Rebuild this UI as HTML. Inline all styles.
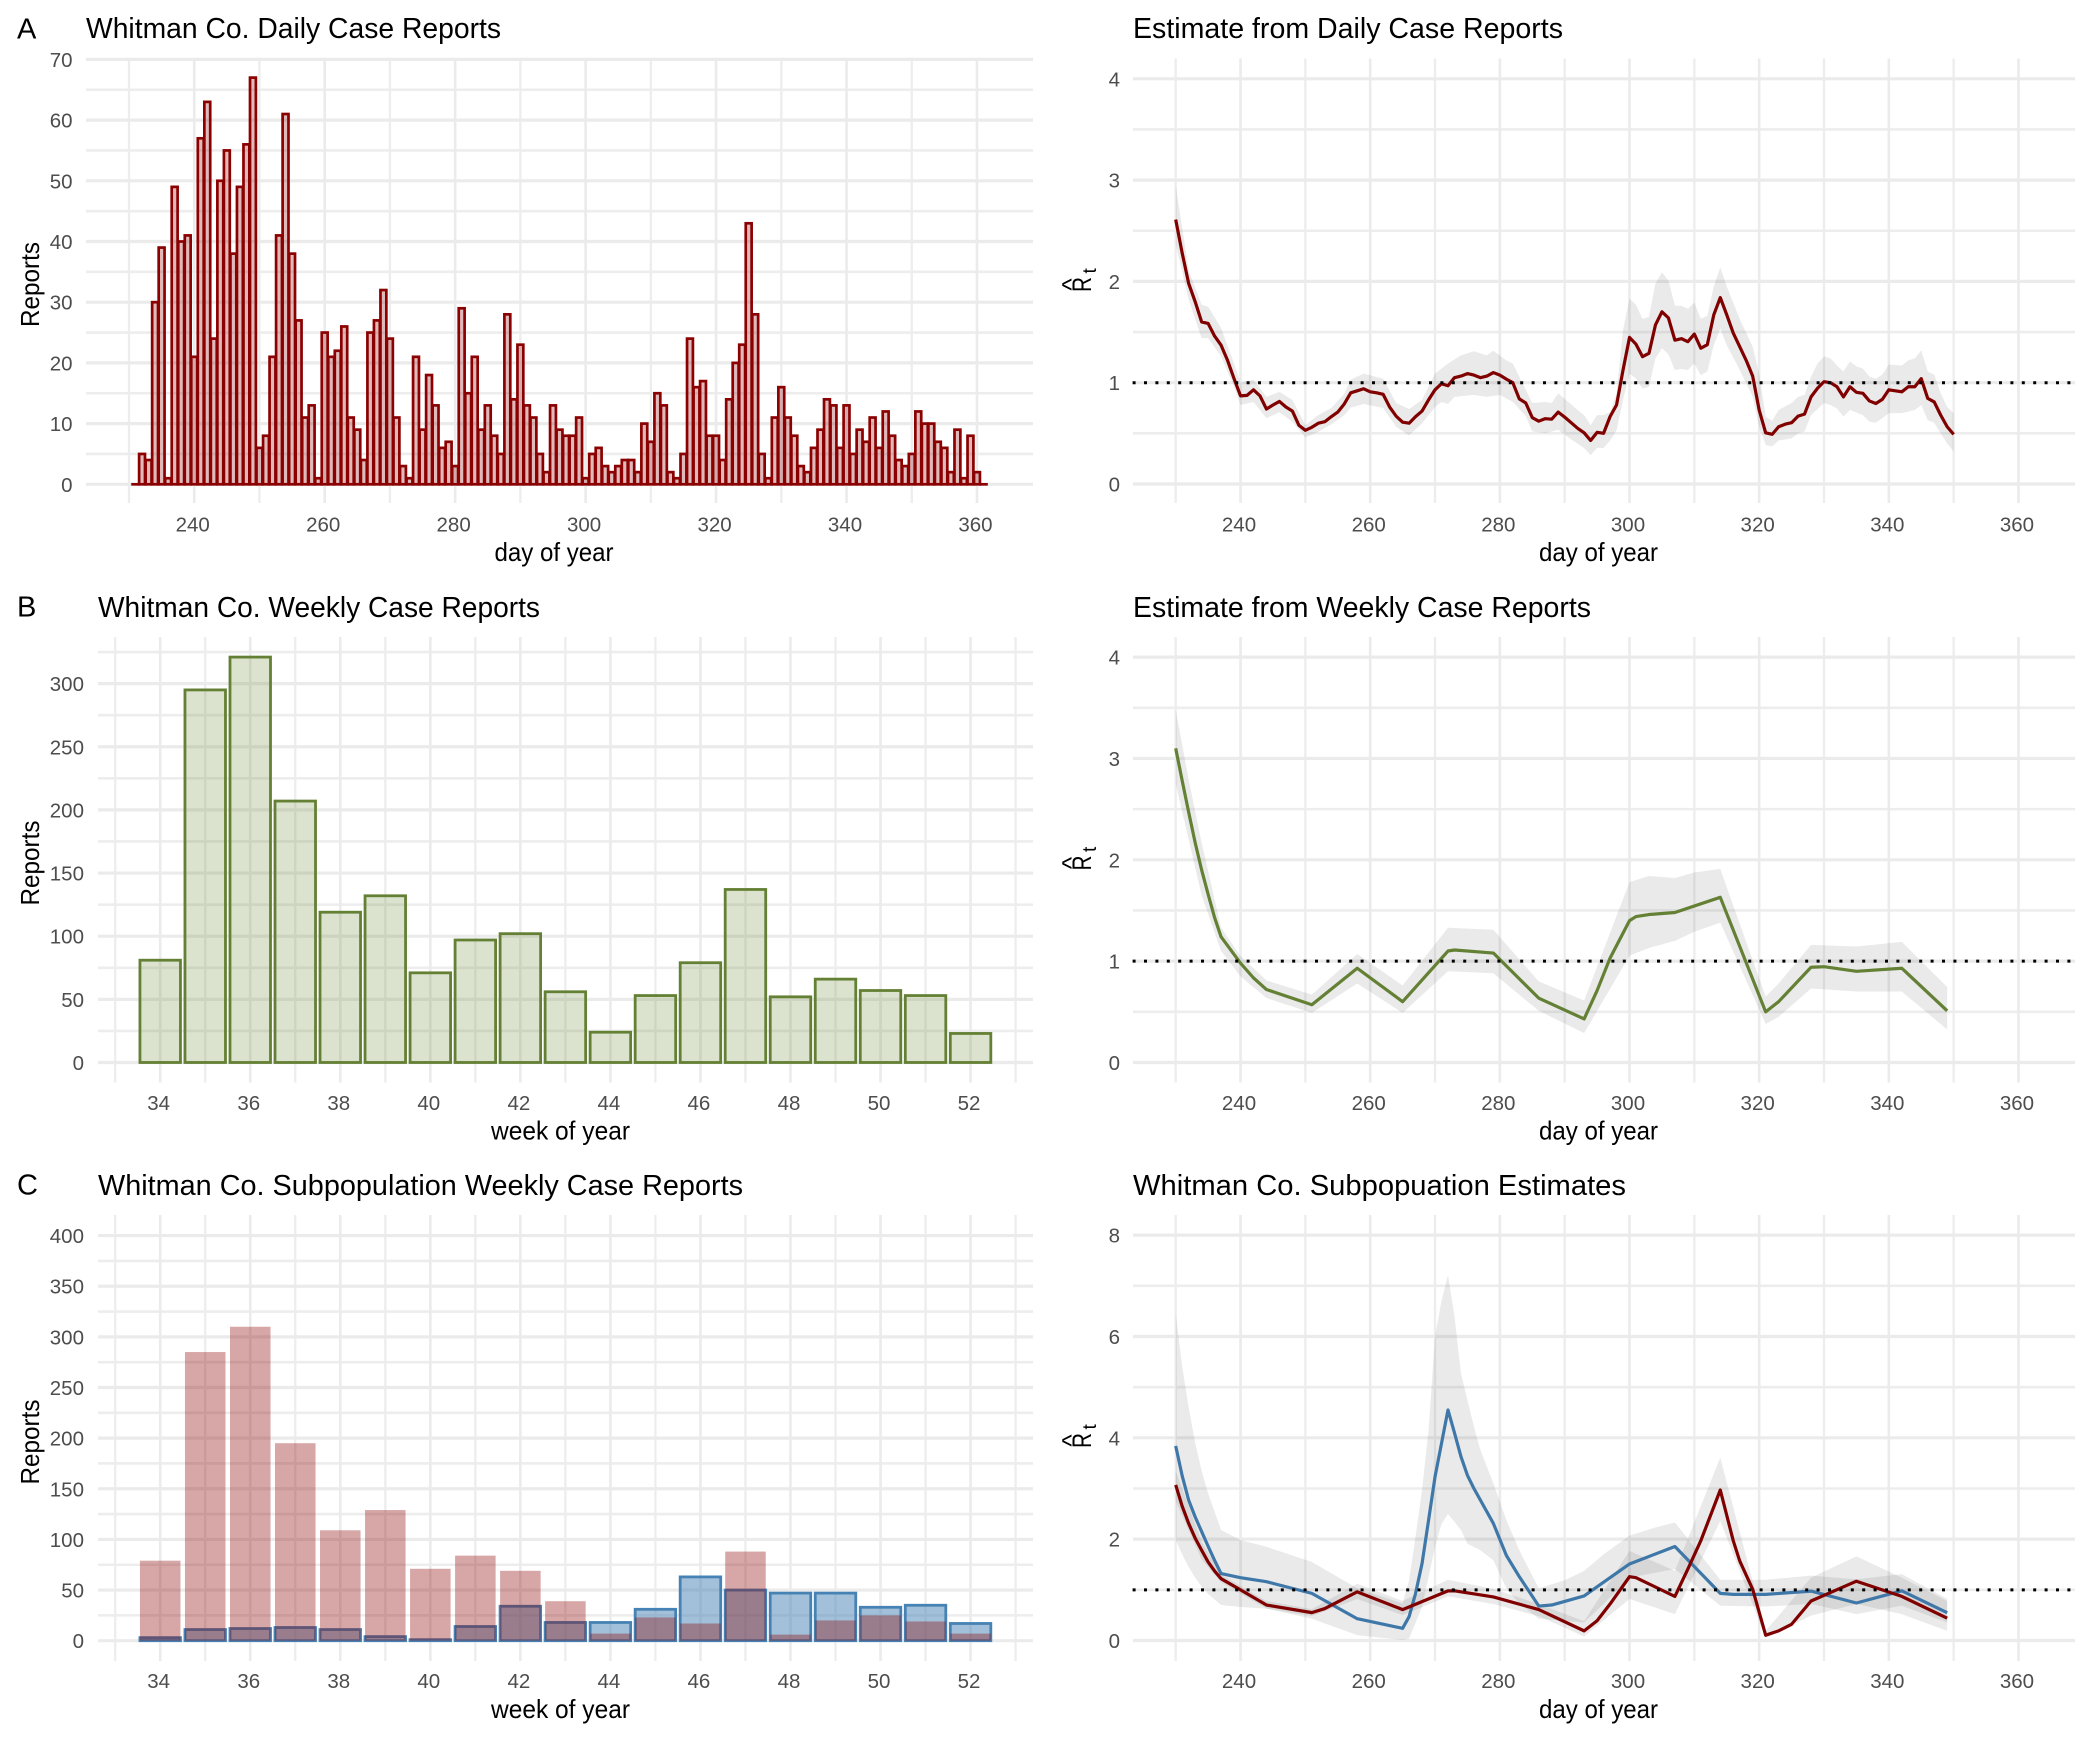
<!DOCTYPE html>
<html lang="en">
<head>
<meta charset="utf-8">
<title>Whitman Co. case reports and reproduction number estimates</title>
<style>
html,body{margin:0;padding:0;background:#fff;}
svg{display:block;font-family:"Liberation Sans",sans-serif;}
.ptitle{font-size:29px;fill:#000;}
.axt{font-size:26px;fill:#000;}
.tick{font-size:20.5px;fill:#4d4d4d;}
</style>
</head>
<body>
<svg id="figure" xmlns="http://www.w3.org/2000/svg" width="2100" height="1739" viewBox="0 0 2100 1739">
  <rect x="0" y="0" width="2100" height="1739" fill="#fff"/>
  <g id="marks"></g>

  <text x="17" y="38.5" font-size="29" fill="#000">A</text>
  <text x="17" y="616.5" font-size="29" fill="#000">B</text>
  <text x="17" y="1194.5" font-size="29" fill="#000">C</text>

  <text class="ptitle" x="86" y="38" textLength="415" lengthAdjust="spacingAndGlyphs">Whitman Co. Daily Case Reports</text>
  <text class="ptitle" x="1133" y="38" textLength="430" lengthAdjust="spacingAndGlyphs">Estimate from Daily Case Reports</text>
  <text class="ptitle" x="98" y="617" textLength="442" lengthAdjust="spacingAndGlyphs">Whitman Co. Weekly Case Reports</text>
  <text class="ptitle" x="1133" y="617" textLength="458" lengthAdjust="spacingAndGlyphs">Estimate from Weekly Case Reports</text>
  <text class="ptitle" x="98" y="1195" textLength="645" lengthAdjust="spacingAndGlyphs">Whitman Co. Subpopulation Weekly Case Reports</text>
  <text class="ptitle" x="1133" y="1195" textLength="493" lengthAdjust="spacingAndGlyphs">Whitman Co. Subpopuation Estimates</text>

  <text class="axt" x="494.5" y="561" textLength="119" lengthAdjust="spacingAndGlyphs">day of year</text>
  <text class="axt" x="1539" y="561" textLength="119" lengthAdjust="spacingAndGlyphs">day of year</text>
  <text class="axt" x="491" y="1139.5" textLength="139" lengthAdjust="spacingAndGlyphs">week of year</text>
  <text class="axt" x="1539" y="1139.5" textLength="119" lengthAdjust="spacingAndGlyphs">day of year</text>
  <text class="axt" x="491" y="1718" textLength="139" lengthAdjust="spacingAndGlyphs">week of year</text>
  <text class="axt" x="1539" y="1718" textLength="119" lengthAdjust="spacingAndGlyphs">day of year</text>

  <text class="axt" transform="translate(39,327) rotate(-90)" textLength="85" lengthAdjust="spacingAndGlyphs">Reports</text>
  <text class="axt" transform="translate(39,905.5) rotate(-90)" textLength="85" lengthAdjust="spacingAndGlyphs">Reports</text>
  <text class="axt" transform="translate(39,1484.5) rotate(-90)" textLength="85" lengthAdjust="spacingAndGlyphs">Reports</text>

  <g>
    <text transform="translate(1091,292) rotate(-90)" font-size="27" textLength="15" lengthAdjust="spacingAndGlyphs">R</text>
    <text transform="translate(1080,284.5) rotate(-90)" font-size="26" text-anchor="middle">^</text>
    <text transform="translate(1096,273.5) rotate(-90)" font-size="19">t</text>
  </g>
  <g transform="translate(0,578.5)">
    <text transform="translate(1091,292) rotate(-90)" font-size="27" textLength="15" lengthAdjust="spacingAndGlyphs">R</text>
    <text transform="translate(1080,284.5) rotate(-90)" font-size="26" text-anchor="middle">^</text>
    <text transform="translate(1096,273.5) rotate(-90)" font-size="19">t</text>
  </g>
  <g transform="translate(0,1156)">
    <text transform="translate(1091,292) rotate(-90)" font-size="27" textLength="15" lengthAdjust="spacingAndGlyphs">R</text>
    <text transform="translate(1080,284.5) rotate(-90)" font-size="26" text-anchor="middle">^</text>
    <text transform="translate(1096,273.5) rotate(-90)" font-size="19">t</text>
  </g>
</svg>

<script>
// ---------- categories and tick labels ----------
const dayTicks = [240,260,280,300,320,340,360];
const dayMinor = [230,250,270,290,310,330,350];
const weekTicks = [34,36,38,40,42,44,46,48,50,52];
const weekMinor = [33,35,37,39,41,43,45,47,49,51,53];
const dailyReportTicks = [0,10,20,30,40,50,60,70];
const dailyReportMinor = [5,15,25,35,45,55,65];
const weeklyReportTicks = [0,50,100,150,200,250,300];
const weeklyReportMinor = [25,75,125,175,225,275,325];
const subReportTicks = [0,50,100,150,200,250,300,350,400];
const subReportMinor = [25,75,125,175,225,275,325,375];
const rtTicks = [0,1,2,3,4];
const rtMinor = [0.5,1.5,2.5,3.5];
const subRtTicks = [0,2,4,6,8];
const subRtMinor = [1,3,5,7];
const referenceLevel = 1;

// ---------- daily reports ----------
const dailyDays = [
231,232,233,234,235,236,237,238,239,240,241,242,243,244,245,246,247,248,249,250,
251,252,253,254,255,256,257,258,259,260,261,262,263,264,265,266,267,268,269,270,
271,272,273,274,275,276,277,278,279,280,281,282,283,284,285,286,287,288,289,290,
291,292,293,294,295,296,297,298,299,300,301,302,303,304,305,306,307,308,309,310,
311,312,313,314,315,316,317,318,319,320,321,322,323,324,325,326,327,328,329,330,
331,332,333,334,335,336,337,338,339,340,341,342,343,344,345,346,347,348,349,350,
351,352,353,354,355,356,357,358,359,360,361];
const dailyReports = [
0,5,4,30,39,1,49,40,41,21,57,63,24,50,55,38,49,56,67,6,
8,21,41,61,38,27,11,13,1,25,21,22,26,11,9,4,25,27,32,24,
11,3,1,21,9,18,13,6,7,3,29,15,21,9,13,8,5,28,14,23,
13,11,5,2,13,9,8,8,11,1,5,6,3,2,3,4,4,2,10,7,
15,13,2,1,5,24,16,17,8,8,4,14,20,23,43,28,5,1,11,16,
11,8,3,2,6,9,14,13,6,13,5,9,7,11,6,12,8,4,3,5,
12,10,10,7,6,2,9,1,8,2,0];

// ---------- estimate from daily reports ----------
const rtDailyDays = [
230,231,232,233,234,235,236,237,238,239,
240,241,242,243,244,245,246,247,248,249,
250,251,252,253,254,255,256,257,258,259,
260,261,262,263,264,265,266,267,268,269,
270,271,272,273,274,275,276,277,278,279,
280,281,282,283,284,285,286,287,288,289,
290,291,292,293,294,295,296,297,298,299,
300,301,302,303,304,305,306,307,308,309,
310,311,312,313,314,315,316,317,318,319,
320,321,322,323,324,325,326,327,328,329,
330,331,332,333,334,335,336,337,338,339,
340,341,342,343,344,345,346,347,348,349,350];
const rtDailyValues = [
2.61,2.28,1.98,1.80,1.60,1.585,1.46,1.37,1.22,1.04,
.87,.875,.93,.87,.74,.78,.815,.76,.72,.58,
.53,.56,.60,.615,.665,.71,.79,.90,.92,.94,
.91,.90,.885,.76,.67,.61,.60,.665,.72,.83,
.93,.99,.97,1.05,1.065,1.09,1.075,1.05,1.065,1.10,
1.075,1.035,1.00,.84,.80,.655,.62,.645,.64,.71,
.66,.605,.55,.505,.43,.51,.50,.665,.78,1.125,
1.447,1.38,1.257,1.29,1.57,1.70,1.64,1.42,1.435,1.405,
1.48,1.34,1.375,1.67,1.84,1.67,1.49,1.355,1.22,1.065,
.73,.505,.49,.565,.59,.605,.67,.69,.86,.945,
1.01,1.00,.96,.86,.96,.905,.895,.82,.795,.835,
.93,.92,.91,.96,.96,1.04,.845,.81,.68,.565,.49];
const rtDailyUpperDays = [230,232,234,235,237,239,240,242,244,246,248,250,252,254,256,257,259,262,264,266,268,270,272,274,276,278,279,281,282,284,285,287,288,289,292,293,294,295,296,297,298,299,300,301,302,303,304,305,306,307,308,309,310,311,312,313,314,315,317,319,320,321,322,323,325,326,327,328,329,330,331,332,333,334,335,336,337,338,339,340,342,343,344,345,346,347,348,349,350];
const rtDailyUpper = [2.95,2.11,1.77,1.75,1.54,1.19,1.0,1.03,.86,.91,.83,.58,.68,.75,.89,1.03,1.09,1.04,.80,.74,.83,1.09,1.19,1.27,1.31,1.27,1.315,1.22,1.19,.93,.80,.81,.80,.895,.73,.68,.58,.68,.68,.71,.89,1.52,1.83,1.77,1.63,1.65,1.98,2.09,2.01,1.76,1.76,1.73,1.79,1.63,1.66,1.95,2.14,1.95,1.63,1.355,1.09,.665,.625,.73,.80,.86,.88,1.06,1.19,1.26,1.24,1.17,1.11,1.21,1.16,1.14,1.06,1.04,1.08,1.18,1.17,1.22,1.24,1.32,1.11,1.08,.895,.76,.70];
const rtDailyLowerDays = [230,232,234,235,237,239,240,242,244,246,248,250,252,254,256,257,259,262,264,266,268,270,271,272,273,276,278,280,282,284,285,287,289,291,293,294,295,296,297,298,299,300,301,302,303,304,305,306,307,308,309,310,311,312,313,314,315,317,319,320,321,322,323,325,326,327,328,330,331,332,333,334,336,337,338,339,340,342,344,345,346,347,348,349,350];
const rtDailyLower = [2.37,1.82,1.44,1.44,1.26,.96,.78,.81,.65,.71,.615,.46,.515,.59,.68,.755,.79,.75,.565,.48,.60,.76,.81,.79,.86,.88,.86,.88,.81,.67,.52,.50,.535,.44,.355,.285,.355,.355,.43,.53,.83,1.09,1.04,.94,.96,1.24,1.34,1.28,1.125,1.135,1.125,1.19,1.075,1.11,1.37,1.535,1.37,1.125,.86,.565,.385,.37,.43,.45,.50,.52,.68,.80,.78,.745,.665,.73,.68,.615,.605,.65,.70,.70,.73,.78,.63,.605,.50,.40,.32];

// ---------- weekly reports ----------
const weeks = [34,35,36,37,38,39,40,41,42,43,44,45,46,47,48,49,50,51,52];
const weeklyReports = [81,295,321,207,119,132,71,97,102,56,24,53,79,137,52,66,57,53,23];

// ---------- estimate from weekly reports ----------
const rtWeeklyDays = [230,231,232,233,234,235,236,237,240,242,244,251,258,265,272,273,279,286,293,295,297,300,301,303,307,314,321,323,328,330,335,342,349];
const rtWeeklyValues = [3.10,2.78,2.47,2.17,1.90,1.66,1.43,1.24,.98,.835,.72,.57,.93,.60,1.10,1.11,1.08,.635,.43,.71,1.03,1.40,1.44,1.46,1.48,1.63,.50,.60,.94,.945,.90,.93,.51];
const rtWeeklyRibbonDays = [230,232,234,237,240,244,251,258,265,272,279,286,293,300,303,307,310,314,321,323,328,335,342,349];
const rtWeeklyUpper = [3.48,2.79,2.17,1.33,1.05,.81,.67,1.07,.76,1.33,1.31,.80,.61,1.78,1.84,1.82,1.875,1.91,.65,.78,1.16,1.145,1.19,.745];
const rtWeeklyLower = [2.75,2.2,1.65,1.10,.85,.635,.49,.78,.49,.90,.88,.51,.29,1.055,1.13,1.20,1.29,1.38,.38,.45,.73,.70,.70,.325];

// ---------- subpopulation reports ----------
const subRedReports = [79,285,310,195,109,129,71,84,69,39,7,23,17,88,6,20,25,19,7];
const subBlueReports = [3,11,12,13,11,4,1,14,34,18,18,31,63,50,47,47,33,35,17];

// ---------- subpopulation estimates ----------
const subBlueDays = [230,231,232,233,234,235,236,237,240,244,251,258,265,266,267,268,269,270,272,273,274,275,276,277,279,281,283,286,288,293,300,307,314,316,321,328,335,342,349];
const subBlueValues = [3.84,3.25,2.77,2.44,2.15,1.86,1.58,1.32,1.24,1.16,.93,.43,.24,.47,.93,1.52,2.37,3.23,4.55,4.1,3.63,3.26,3.0,2.77,2.31,1.68,1.26,.68,.70,.88,1.51,1.855,.93,.91,.91,.975,.74,.98,.55];
const subBlueUpperDays = [230,231,232,233,234,235,237,240,244,251,258,265,266,267,268,269,270,271,272,273,274,276,277,279,281,283,286,290,293,296,300,304,307,314,321,328,335,342,349];
const subBlueUpper = [6.45,5.4,4.6,3.9,3.35,2.9,2.18,1.98,1.85,1.55,1.03,.73,1.19,2.05,2.97,4.15,6.0,6.7,7.21,6.4,5.27,4.22,3.76,3.1,2.375,1.78,1.03,1.19,1.375,1.7,2.07,2.23,2.33,1.2,1.2,1.28,1.21,1.31,.82];
const subBlueLowerDays = [230,231,232,233,234,235,237,240,244,251,258,265,266,268,270,271,272,274,275,277,279,281,283,286,293,296,300,307,314,321,328,335,342,349];
const subBlueLower = [1.98,1.7,1.45,1.24,1.06,.92,.70,.66,.63,.43,.105,.01,.04,.66,1.85,2.3,2.5,2.18,1.91,1.78,1.585,1.03,.73,.43,.355,.72,1.24,1.41,.685,.67,.72,.52,.685,.355];
const subRedDays = [230,231,232,233,234,235,236,237,240,244,251,253,258,265,272,273,279,286,293,295,297,300,301,307,309,311,314,316,317,319,321,323,325,328,335,342,349];
const subRedValues = [3.07,2.65,2.31,2.02,1.78,1.55,1.37,1.22,1.0,.70,.55,.63,.96,.61,.98,.98,.86,.61,.19,.39,.72,1.26,1.24,.87,1.41,1.97,2.97,1.97,1.57,1.01,.105,.19,.32,.78,1.17,.87,.44];
const subRedRibbonDays = [230,234,237,244,251,258,265,272,279,286,293,300,307,314,321,328,335,342,349];
const subRedUpper = [3.35,1.95,1.3,.78,.62,1.12,.78,1.2,1.02,.72,.38,1.77,1.375,3.61,.19,1.24,1.66,1.24,.78];
const subRedLower = [2.75,1.6,1.15,.63,.48,.82,.5,.87,.72,.48,.08,.82,.52,2.36,.05,.49,.72,.52,.19];

// ---------- panel layout ----------
const panelLayouts = {
  dailyBars:  {left:86,   right:1033, top:58.5, bottom:503,  xRef:230, xAt:129,    xStep:6.523, yAt:484.3,  yStep:6.07,   labelX:72.5, tickY:531.5},
  dailyRt:    {left:1133, right:2075, top:58.5, bottom:503,  xRef:230, xAt:1175.7, xStep:6.483, yAt:484,    yStep:101.3,  labelX:1120, tickY:531.5},
  weeklyBars: {left:98,   right:1033, top:637,  bottom:1082.5, xRef:34, xAt:160.2, xStep:45.02, yAt:1062.5, yStep:1.263,  labelX:84,   tickY:1110},
  weeklyRt:   {left:1133, right:2075, top:637,  bottom:1082.5, xRef:230, xAt:1175.7, xStep:6.483, yAt:1062.5, yStep:101.35, labelX:1120, tickY:1110},
  subBars:    {left:98,   right:1033, top:1215, bottom:1661, xRef:34,  xAt:160.2,  xStep:45.02, yAt:1640.7, yStep:1.0128, labelX:84,   tickY:1688},
  subRt:      {left:1133, right:2075, top:1215, bottom:1661, xRef:230, xAt:1175.7, xStep:6.483, yAt:1640.5, yStep:50.67,  labelX:1120, tickY:1688}
};

// ---------- drawing helpers ----------
const SVG_NS = 'http://www.w3.org/2000/svg';
const root = document.getElementById('marks');
function make(tag, attrs, parent) {
  const el = document.createElementNS(SVG_NS, tag);
  Object.keys(attrs).forEach(function (k) { el.setAttribute(k, attrs[k]); });
  (parent || root).appendChild(el);
  return el;
}
function xAxis(p) { return function (v) { return p.xAt + (v - p.xRef) * p.xStep; }; }
function yAxis(p) { return function (v) { return p.yAt - v * p.yStep; }; }

function drawGrid(p, xMajor, xMinor, yMajor, yMinor) {
  const x = xAxis(p), y = yAxis(p);
  xMinor.forEach(function (v) {
    const l = make('line', {x1:x(v), x2:x(v), y1:p.top, y2:p.bottom, stroke:'#ededed', 'stroke-width':2.3});
    
    
  });
  yMinor.forEach(function (v) {
    const l = make('line', {x1:p.left, x2:p.right, y1:y(v), y2:y(v), stroke:'#ededed', 'stroke-width':2.6});
    
    
  });
  xMajor.forEach(function (v) {
    const l = make('line', {x1:x(v), x2:x(v), y1:p.top, y2:p.bottom, stroke:'#ebebeb', 'stroke-width':2.6});
    
    
    const t = make('text', {x:x(v) - 1.5, y:p.tickY, 'text-anchor':'middle', class:'tick'});
    
    
    t.textContent = v;
  });
  yMajor.forEach(function (v) {
    const l = make('line', {x1:p.left, x2:p.right, y1:y(v), y2:y(v), stroke:'#ebebeb', 'stroke-width':3.2});
    
    
    const t = make('text', {x:p.labelX, y:y(v) + 7.5, 'text-anchor':'end', class:'tick'});
    
    
    t.textContent = v;
  });
}
function drawBars(p, cats, vals, fill, stroke, strokeWidth) {
  const x = xAxis(p), y = yAxis(p);
  const w = p.xStep * 0.9;
  cats.forEach(function (c, i) {
    const r = make('rect', {x:x(c) - w / 2, y:y(vals[i]), width:w, height:Math.max(y(0) - y(vals[i]), 0.01), fill:fill, stroke:stroke, 'stroke-width':strokeWidth});
    
    
  });
}
function drawRibbon(p, upperDays, upper, lowerDays, lower) {
  const x = xAxis(p), y = yAxis(p);
  const pts = [];
  upperDays.forEach(function (d, i) { pts.push(x(d) + ',' + y(upper[i])); });
  for (let i = lowerDays.length - 1; i >= 0; i--) { pts.push(x(lowerDays[i]) + ',' + y(lower[i])); }
  const r = make('polygon', {points:pts.join(' '), fill:'rgba(90,90,90,0.13)', stroke:'none'});
  
  
}
function drawLine(p, days, vals, color) {
  const x = xAxis(p), y = yAxis(p);
  const pts = days.map(function (d, i) { return x(d) + ',' + y(vals[i]); }).join(' ');
  const l = make('polyline', {points:pts, fill:'none', stroke:color, 'stroke-width':3.2, 'stroke-linejoin':'round'});
  
  
}
function drawReference(p, level) {
  const y = yAxis(p);
  const l = make('line', {x1:p.left - 0.4, x2:p.right, y1:y(level), y2:y(level), stroke:'#000', 'stroke-width':3, 'stroke-dasharray':'3 8.4'});
  
  
}

const DARK_RED = '#800000';
const BAR_RED = '#8b0000';
const GREEN = '#648035';
const BLUE = '#3f78a8';

// A left
drawGrid(panelLayouts.dailyBars, dayTicks, dayMinor, dailyReportTicks, dailyReportMinor);
drawBars(panelLayouts.dailyBars, dailyDays, dailyReports, 'rgba(139,0,0,0.27)', BAR_RED, 2.7);
// A right
drawGrid(panelLayouts.dailyRt, dayTicks, dayMinor, rtTicks, rtMinor);
drawRibbon(panelLayouts.dailyRt, rtDailyUpperDays, rtDailyUpper, rtDailyLowerDays, rtDailyLower);
drawLine(panelLayouts.dailyRt, rtDailyDays, rtDailyValues, DARK_RED);
drawReference(panelLayouts.dailyRt, referenceLevel);
// B left
drawGrid(panelLayouts.weeklyBars, weekTicks, weekMinor, weeklyReportTicks, weeklyReportMinor);
drawBars(panelLayouts.weeklyBars, weeks, weeklyReports, 'rgba(110,139,61,0.25)', GREEN, 2.8);
// B right
drawGrid(panelLayouts.weeklyRt, dayTicks, dayMinor, rtTicks, rtMinor);
drawRibbon(panelLayouts.weeklyRt, rtWeeklyRibbonDays, rtWeeklyUpper, rtWeeklyRibbonDays, rtWeeklyLower);
drawLine(panelLayouts.weeklyRt, rtWeeklyDays, rtWeeklyValues, GREEN);
drawReference(panelLayouts.weeklyRt, referenceLevel);
// C left
drawGrid(panelLayouts.subBars, weekTicks, weekMinor, subReportTicks, subReportMinor);
drawBars(panelLayouts.subBars, weeks, subBlueReports, 'rgba(70,130,180,0.5)', '#4682b4', 2.8);
drawBars(panelLayouts.subBars, weeks, subRedReports, 'rgba(139,0,0,0.35)', 'none', 0);
// C right
drawGrid(panelLayouts.subRt, dayTicks, dayMinor, subRtTicks, subRtMinor);
drawRibbon(panelLayouts.subRt, subBlueUpperDays, subBlueUpper, subBlueLowerDays, subBlueLower);
drawRibbon(panelLayouts.subRt, subRedRibbonDays, subRedUpper, subRedRibbonDays, subRedLower);
drawLine(panelLayouts.subRt, subBlueDays, subBlueValues, BLUE);
drawLine(panelLayouts.subRt, subRedDays, subRedValues, DARK_RED);
drawReference(panelLayouts.subRt, referenceLevel);
</script>
</body>
</html>
